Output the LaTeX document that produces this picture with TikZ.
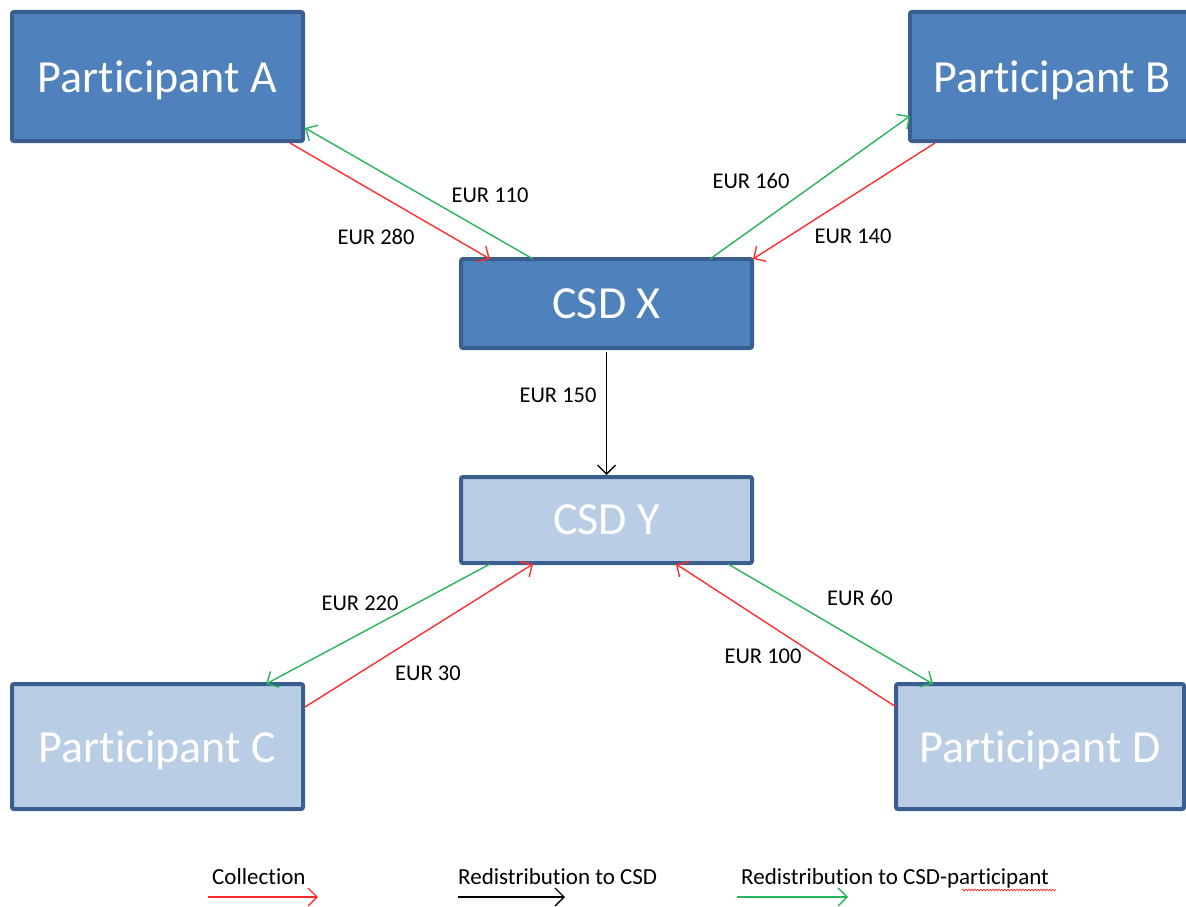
\documentclass[tikz,border=0pt]{standalone}
\usepackage{fontspec}
\setmainfont{Carlito}[Ligatures=NoCommon]
\usetikzlibrary{arrows.meta,calc,decorations.pathmorphing}
\definecolor{boxdark}{HTML}{4F81BD}
\definecolor{boxlight}{HTML}{B9CDE5}
\definecolor{boxborder}{HTML}{3A5F8E}
\definecolor{redarr}{RGB}{255,45,45}
\definecolor{greenarr}{RGB}{40,180,90}
\begin{document}
\begin{tikzpicture}[x=1pt,y=-1pt,
  box/.style={draw=boxborder, line width=4pt, rounded corners=2pt, outer sep=0pt, inner sep=0pt,
    text=white, text depth=0pt, font=\fontsize{46}{50}\selectfont},
  darkbox/.style={box, fill=boxdark},
  lightbox/.style={box, fill=boxlight},
  conn/.style={line width=1.4pt, -{Straight Barb[length=9pt,width=18pt,line width=1.4pt]}},
  redc/.style={conn, draw=redarr},
  greenc/.style={conn, draw=greenarr},
  blackc/.style={conn, draw=black},
  lbl/.style={font=\fontsize{22.5}{25}\selectfont, text=black, inner sep=0pt},
  legtxt/.style={font=\fontsize{23}{26}\selectfont, text=black, inner sep=0pt, anchor=base west}]
\useasboundingbox (0,0) rectangle (1186,907);

\node[darkbox, minimum width=291pt, minimum height=129pt] (A) at (157.5,76.5) {Participant A};
\node[darkbox, minimum width=284pt, minimum height=129pt] (B) at (1052,76.5) {Participant B};
\node[darkbox, minimum width=291pt, minimum height=89pt] (X) at (606.5,303.5) {CSD X};
\node[lightbox, minimum width=291pt, minimum height=86pt] (Y) at (606.5,520) {CSD Y};
\node[lightbox, minimum width=291pt, minimum height=125pt] (C) at (157.5,746.5) {Participant C};
\node[lightbox, minimum width=288pt, minimum height=125pt] (D) at (1040,746.5) {Participant D};

% connectors
\draw[redc] ($(A.south east)+(-13,2)$) -- ($(X.north west)+(29,0)$);
\draw[greenc] ($(X.north west)+(72,0)$) -- ($(A.south east)+(2,-13)$);
\draw[greenc] ($(X.north east)+(-42,0)$) -- ($(B.south west)+(0,-25)$);
\draw[redc] ($(B.south west)+(25,2)$) -- ($(X.north east)+(1,0)$);
\draw[blackc] ($(X.south)+(0,4)$) -- ($(Y.north)+(0,-2)$);
\draw[greenc] ($(Y.south west)+(29,1)$) -- ($(C.north east)+(-37,0)$);
\draw[redc] ($(C.north east)+(2,23)$) -- ($(Y.south west)+(72,1)$);
\draw[redc] ($(D.north west)+(0,23)$) -- ($(Y.south east)+(-76,1)$);
\draw[greenc] ($(Y.south east)+(-24,1)$) -- ($(D.north west)+(37,0)$);

% labels
\node[lbl] (l110) at (490,195) {EUR 110};
\node[lbl] (l280) at (376,237) {EUR 280};
\node[lbl] (l160) at (751,181) {EUR 160};
\node[lbl] (l140) at (853,236) {EUR 140};
\node[lbl] (l150) at (558,395) {EUR 150};
\node[lbl] (l220) at (360,603) {EUR 220};
\node[lbl] (l30) at (428,673) {EUR 30};
\node[lbl] (l60) at (860,598) {EUR 60};
\node[lbl] (l100) at (763,656) {EUR 100};

% legend
\node[legtxt] (t1) at (212,884) {Collection};
\node[legtxt] (t2) at (458,884) {Redistribution to CSD};
\node[legtxt] (t3) at (741,884) {Redistribution to CSD-participant};
\coordinate (a1s) at (208,897);
\coordinate (a1e) at (318,897);
\coordinate (a2s) at (458,897);
\coordinate (a2e) at (565,897);
\coordinate (a3s) at (737,897);
\coordinate (a3e) at (848,897);
\draw[redc] (a1s) -- (a1e);
\draw[blackc] (a2s) -- (a2e);
\draw[greenc] (a3s) -- (a3e);
\coordinate (w1) at (962,890);
\coordinate (w2) at (1056,890);
\draw[redarr, line width=0.7pt, decorate, decoration={snake, amplitude=0.9pt, segment length=3pt}] (w1) -- (w2);
\end{tikzpicture}
\end{document}
